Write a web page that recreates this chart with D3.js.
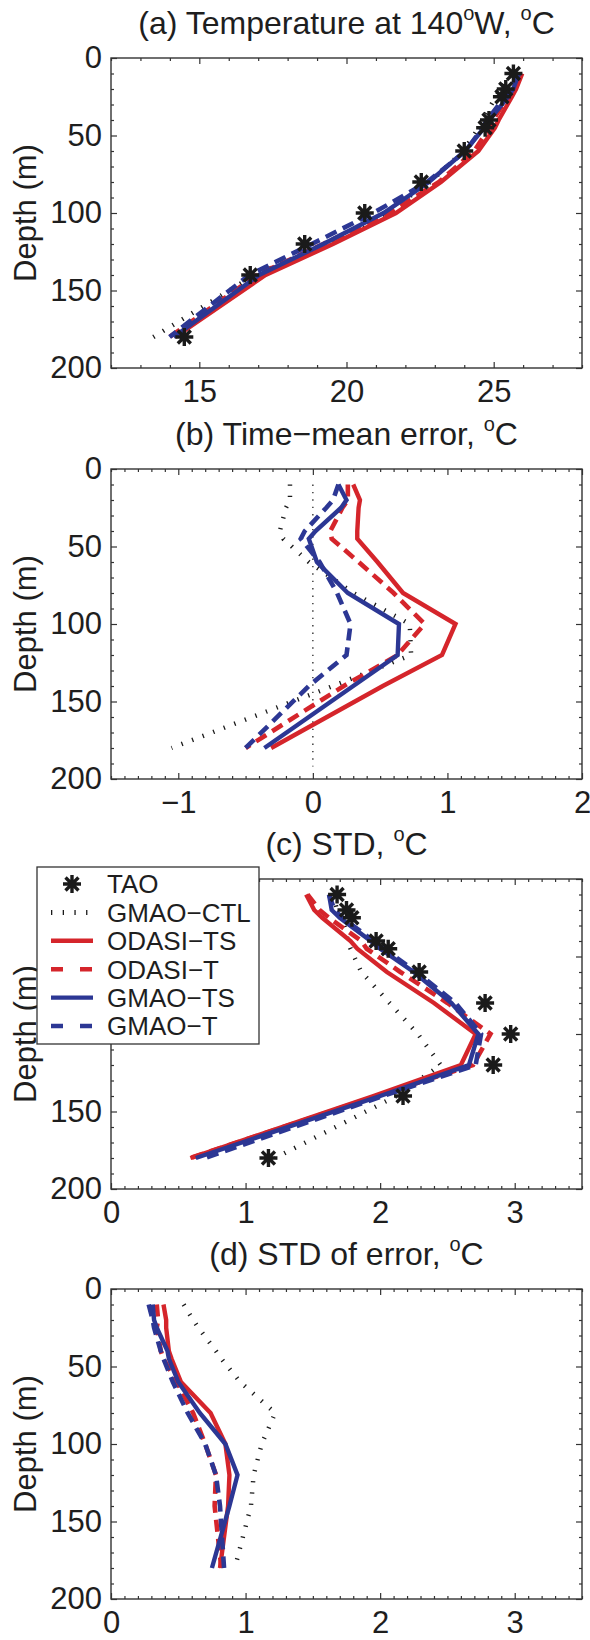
<!DOCTYPE html>
<html><head><meta charset="utf-8">
<script src="https://cdn.jsdelivr.net/npm/d3@7"></script>
<style>body{margin:0;background:#fff}</style>
</head><body><svg id="c" width="590" height="1640"></svg>
<script>
// ---------- data ----------
const depths = [10, 20, 25, 40, 45, 60, 80, 100, 120, 140, 180];
const yTicks = [0, 50, 100, 150, 200];

// (a) temperature
const taoTemp     = [25.67, 25.41, 25.28, 24.84, 24.71, 24.00, 22.54, 20.62, 18.58, 16.73, 14.49];
const ctlTemp     = [25.50, 25.24, 25.08, 24.60, 24.49, 23.97, 22.84, 21.34, 19.31, 16.88, 13.44];
const odasiTsTemp = [25.97, 25.76, 25.62, 25.17, 25.04, 24.48, 23.21, 21.68, 19.54, 17.25, 14.18];
const odasiTTemp  = [25.93, 25.67, 25.50, 24.97, 24.85, 24.34, 23.14, 21.45, 19.21, 16.96, 13.99];
const gmaoTsTemp  = [25.86, 25.66, 25.49, 24.86, 24.68, 24.03, 22.80, 21.26, 19.21, 17.03, 14.13];
const gmaoTTemp   = [25.86, 25.56, 25.38, 24.78, 24.62, 24.05, 22.74, 20.91, 18.82, 16.70, 13.99];
const xTicksA = [15, 20, 25];

// (b) time-mean error
const ctlErr     = [-0.17, -0.17, -0.20, -0.245, -0.22, -0.03, 0.30, 0.72, 0.73, 0.15, -1.05];
const odasiTsErr = [0.30, 0.35, 0.34, 0.33, 0.33, 0.48, 0.67, 1.06, 0.96, 0.52, -0.31];
const odasiTErr  = [0.26, 0.26, 0.22, 0.13, 0.14, 0.34, 0.60, 0.83, 0.63, 0.23, -0.50];
const gmaoTsErr  = [0.19, 0.25, 0.21, 0.02, -0.03, 0.03, 0.26, 0.64, 0.63, 0.30, -0.36];
const gmaoTErr   = [0.19, 0.15, 0.10, -0.06, -0.09, 0.05, 0.18, 0.28, 0.25, -0.03, -0.50];
const zeroLineDepths = [10, 192];
const xTicksB = [-1, 0, 1, 2];

// (c) STD
const taoStd     = [1.68, 1.75, 1.79, 1.97, 2.06, 2.29, 2.78, 2.97, 2.84, 2.17, 1.17];
const ctlStd     = [1.65, 1.68, 1.72, 1.76, 1.78, 1.86, 2.07, 2.28, 2.45, 2.12, 1.22];
const odasiTsStd = [1.45, 1.51, 1.57, 1.78, 1.83, 2.05, 2.40, 2.71, 2.60, 1.95, 0.59];
const odasiTStd  = [1.46, 1.55, 1.62, 1.86, 1.90, 2.15, 2.50, 2.82, 2.69, 1.97, 0.59];
const gmaoTsStd  = [1.62, 1.64, 1.70, 1.93, 2.00, 2.25, 2.53, 2.73, 2.66, 2.00, 0.63];
const gmaoTStd   = [1.62, 1.66, 1.72, 1.95, 2.03, 2.27, 2.56, 2.75, 2.71, 2.02, 0.70];
const xTicksC = [0, 1, 2, 3];

// (d) STD of error
const ctlStdErr     = [0.54, 0.61, 0.65, 0.78, 0.82, 0.96, 1.22, 1.12, 1.06, 1.04, 0.92];
const odasiTsStdErr = [0.39, 0.41, 0.41, 0.43, 0.45, 0.52, 0.74, 0.85, 0.88, 0.87, 0.81];
const odasiTStdErr  = [0.34, 0.35, 0.34, 0.37, 0.39, 0.49, 0.61, 0.70, 0.78, 0.77, 0.82];
const gmaoTsStdErr  = [0.31, 0.32, 0.34, 0.42, 0.43, 0.50, 0.66, 0.85, 0.94, 0.88, 0.75];
const gmaoTStdErr   = [0.28, 0.31, 0.32, 0.37, 0.39, 0.46, 0.57, 0.70, 0.78, 0.81, 0.84];
const xTicksD = [0, 1, 2, 3];

const legendLabels = ["TAO", "GMAO\u2212CTL", "ODASI\u2212TS", "ODASI\u2212T", "GMAO\u2212TS", "GMAO\u2212T"];

// ---------- layout / style ----------
const svg = d3.select('#c');
const FONT = '"Liberation Sans", Arial, Helvetica, sans-serif';
const TXT = '#1e1e1e';
const FS = 31, FST = 32;
const left = 111, right = 582, ph = 310;
const tops = [58, 469, 879, 1289];
const RED = '#d5252b', BLUE = '#2c3794', BLK = '#1a1a1a';
const sty = {
  ctl:     {color: BLK,  width: 4.5, dash: '1.3,10'},
  odasiTs: {color: RED,  width: 4.4, dash: null},
  odasiT:  {color: RED,  width: 4.6, dash: '12,7'},
  gmaoTs:  {color: BLUE, width: 4.4, dash: null},
  gmaoT:   {color: BLUE, width: 4.6, dash: '12,7'}
};
const fmt = d => d < 0 ? '\u2212' + Math.abs(d) : String(d);

function starPath(r) {
  const k = r * 0.72;
  return `M${-r},0L${r},0M0,${-r}L0,${r}M${-k},${-k}L${k},${k}M${-k},${k}L${k},${-k}`;
}

function title(top, parts) {
  const t = svg.append('text').attr('x', (left + right) / 2).attr('y', top - 24)
    .attr('text-anchor', 'middle').attr('font-family', FONT).attr('font-size', FST).attr('fill', TXT);
  let up = false;
  parts.forEach(p => {
    const s = t.append('tspan').text(p.t);
    if (p.sup) { s.attr('font-size', 20).attr('dy', -14); if (p.dx) s.attr('dx', p.dx); up = true; }
    else if (up) { s.attr('dy', 14); up = false; }
  });
}

function panel(top, xDomain, xTicks, minorStep, series, tao, zero) {
  const x = d3.scaleLinear().domain(xDomain).range([left, right]);
  const y = d3.scaleLinear().domain([0, 200]).range([top, top + ph]);
  const g = svg.append('g');
  const line = d3.line().x(d => x(d[0])).y(d => y(d[1]));

  if (zero) {
    g.append('path').attr('d', line(zero.map(d => [0, d])))
      .attr('fill', 'none').attr('stroke', '#333').attr('stroke-width', 1.4).attr('stroke-dasharray', '1.4,6');
  }
  series.forEach(s => {
    const st = sty[s.key];
    g.append('path').attr('d', line(s.vals.map((v, i) => [v, depths[i]])))
      .attr('fill', 'none').attr('stroke', st.color).attr('stroke-width', st.width)
      .attr('stroke-dasharray', st.dash).attr('stroke-linejoin', 'miter').attr('stroke-linecap', 'butt');
  });
  if (tao) {
    g.selectAll('.star').data(tao).enter().append('path')
      .attr('d', starPath(9))
      .attr('transform', (v, i) => `translate(${x(v)},${y(depths[i])})`)
      .attr('stroke', BLK).attr('stroke-width', 3.4).attr('fill', 'none');
  }

  // axes
  const n0 = Math.ceil(xDomain[0] / minorStep - 1e-9), n1 = Math.floor(xDomain[1] / minorStep + 1e-9);
  const xMinor = d3.range(n0, n1 + 1).map(k => +(k * minorStep).toFixed(6)).filter(v => !xTicks.includes(v));
  const yMinor = d3.range(0, 201, 10).filter(v => !yTicks.includes(v));

  const styleAxis = sel => {
    sel.select('.domain').remove();
    sel.selectAll('line').attr('stroke', '#333').attr('stroke-width', 1.2);
    sel.selectAll('text').attr('font-family', FONT).attr('font-size', FS).attr('fill', TXT);
  };
  g.append('g').attr('transform', `translate(0,${top + ph})`)
    .call(d3.axisBottom(x).tickValues(xTicks).tickSize(-6).tickPadding(12).tickFormat(fmt)).call(styleAxis);
  g.append('g').attr('transform', `translate(0,${top + ph})`)
    .call(d3.axisBottom(x).tickValues(xMinor).tickSize(-3).tickFormat('')).call(styleAxis);
  g.append('g').attr('transform', `translate(0,${top})`)
    .call(d3.axisTop(x).tickValues(xTicks).tickSize(-6).tickFormat('')).call(styleAxis);
  g.append('g').attr('transform', `translate(0,${top})`)
    .call(d3.axisTop(x).tickValues(xMinor).tickSize(-3).tickFormat('')).call(styleAxis);
  g.append('g').attr('transform', `translate(${left},0)`)
    .call(d3.axisLeft(y).tickValues(yTicks).tickSize(-6).tickPadding(9)).call(styleAxis);
  g.append('g').attr('transform', `translate(${left},0)`)
    .call(d3.axisLeft(y).tickValues(yMinor).tickSize(-3).tickFormat('')).call(styleAxis);
  g.append('g').attr('transform', `translate(${right},0)`)
    .call(d3.axisRight(y).tickValues(yTicks).tickSize(-6).tickFormat('')).call(styleAxis);
  g.append('g').attr('transform', `translate(${right},0)`)
    .call(d3.axisRight(y).tickValues(yMinor).tickSize(-3).tickFormat('')).call(styleAxis);

  g.append('rect').attr('x', left).attr('y', top).attr('width', right - left).attr('height', ph)
    .attr('fill', 'none').attr('stroke', '#333').attr('stroke-width', 1.4);

  g.append('text').attr('transform', `translate(36,${top + ph / 2}) rotate(-90)`)
    .attr('text-anchor', 'middle').attr('font-family', FONT).attr('font-size', FS).attr('fill', TXT)
    .text('Depth (m)');
}

// panel a
title(tops[0], [{t: '(a) Temperature at 140'}, {t: 'o', sup: true}, {t: 'W, '}, {t: 'o', sup: true}, {t: 'C'}]);
panel(tops[0], [12, 28], xTicksA, 1, [
  {key: 'ctl', vals: ctlTemp}, {key: 'odasiTs', vals: odasiTsTemp}, {key: 'odasiT', vals: odasiTTemp},
  {key: 'gmaoTs', vals: gmaoTsTemp}, {key: 'gmaoT', vals: gmaoTTemp}], taoTemp, null);

// panel b
title(tops[1], [{t: '(b) Time\u2212mean error, '}, {t: 'o', sup: true}, {t: 'C'}]);
panel(tops[1], [-1.5, 2], xTicksB, 0.1, [
  {key: 'ctl', vals: ctlErr}, {key: 'odasiTs', vals: odasiTsErr}, {key: 'odasiT', vals: odasiTErr},
  {key: 'gmaoTs', vals: gmaoTsErr}, {key: 'gmaoT', vals: gmaoTErr}], null, zeroLineDepths);

// panel c
title(tops[2], [{t: '(c) STD, '}, {t: 'o', sup: true}, {t: 'C'}]);
panel(tops[2], [0, 3.5], xTicksC, 0.1, [
  {key: 'ctl', vals: ctlStd}, {key: 'odasiTs', vals: odasiTsStd}, {key: 'odasiT', vals: odasiTStd},
  {key: 'gmaoTs', vals: gmaoTsStd}, {key: 'gmaoT', vals: gmaoTStd}], taoStd, null);

// panel d
title(tops[3], [{t: '(d) STD of error, '}, {t: 'o', sup: true}, {t: 'C'}]);
panel(tops[3], [0, 3.5], xTicksD, 0.1, [
  {key: 'ctl', vals: ctlStdErr}, {key: 'odasiTs', vals: odasiTsStdErr}, {key: 'odasiT', vals: odasiTStdErr},
  {key: 'gmaoTs', vals: gmaoTsStdErr}, {key: 'gmaoT', vals: gmaoTStdErr}], null, null);

// legend (panel c)
const lg = svg.append('g');
const lx = 37, ly = 867, lw = 222, lh = 177;
lg.append('rect').attr('x', lx).attr('y', ly).attr('width', lw).attr('height', lh)
  .attr('fill', '#fff').attr('stroke', '#333').attr('stroke-width', 1.3);
const rowY = i => 884 + i * 28.4;
const legKeys = [null, 'ctl', 'odasiTs', 'odasiT', 'gmaoTs', 'gmaoT'];
legendLabels.forEach((lab, i) => {
  const yy = rowY(i);
  if (i === 0) {
    lg.append('path').attr('d', starPath(9)).attr('transform', `translate(72,${yy})`)
      .attr('stroke', BLK).attr('stroke-width', 3.4).attr('fill', 'none');
  } else {
    const st = sty[legKeys[i]];
    lg.append('line').attr('x1', 51).attr('x2', 93).attr('y1', yy).attr('y2', yy)
      .attr('stroke', st.color).attr('stroke-width', legKeys[i] === 'ctl' ? 5 : 4.4)
      .attr('stroke-dasharray', legKeys[i] === 'ctl' ? '1.3,10.4' : (st.dash ? '12,17' : null));
  }
  lg.append('text').attr('x', 107).attr('y', yy + 9.3).attr('font-family', FONT).attr('font-size', 26)
    .attr('fill', TXT).text(lab);
});
</script></body></html>
